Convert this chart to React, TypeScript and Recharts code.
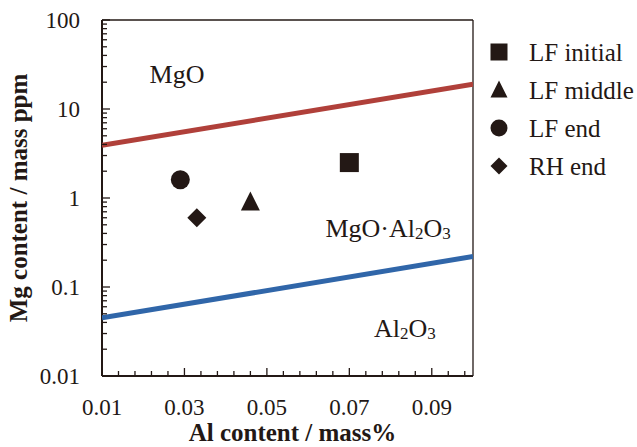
import { ScatterChart, Scatter, XAxis, YAxis, ReferenceLine, ReferenceDot, Legend } from 'recharts'

// Al content (mass%) vs Mg content (mass ppm), stability diagram
const LF_INITIAL = [{ al: 0.07, mg: 2.5 }]
const LF_MIDDLE = [{ al: 0.046, mg: 0.9 }]
const LF_END = [{ al: 0.029, mg: 1.6 }]
const RH_END = [{ al: 0.033, mg: 0.6 }]

// phase boundaries
const MGO_SPINEL = [
  { al: 0.01, mg: 3.9 },
  { al: 0.1, mg: 19 },
]
const SPINEL_AL2O3 = [
  { al: 0.01, mg: 0.045 },
  { al: 0.1, mg: 0.22 },
]

const AL_MAJOR = [0.01, 0.03, 0.05, 0.07, 0.09]
const AL_MINOR = [
  0.014, 0.018, 0.022, 0.026, 0.034, 0.038, 0.042, 0.046, 0.054, 0.058, 0.062, 0.066, 0.074, 0.078,
  0.082, 0.086, 0.094, 0.098,
]
const MG_MAJOR = [0.01, 0.1, 1, 10, 100]
const MG_MINOR = [
  0.02, 0.03, 0.04, 0.05, 0.06, 0.07, 0.08, 0.09, 0.2, 0.3, 0.4, 0.5, 0.6, 0.7, 0.8, 0.9, 2, 3, 4, 5,
  6, 7, 8, 9, 20, 30, 40, 50, 60, 70, 80, 90,
]

type Kind = 'square' | 'triangle' | 'circle' | 'diamond'

const SERIES: { name: string; kind: Kind; data: { al: number; mg: number }[] }[] = [
  { name: 'LF initial', kind: 'square', data: LF_INITIAL },
  { name: 'LF middle', kind: 'triangle', data: LF_MIDDLE },
  { name: 'LF end', kind: 'circle', data: LF_END },
  { name: 'RH end', kind: 'diamond', data: RH_END },
]

const W = 637
const H = 447
const PLOT_LEFT = 102
const PLOT_TOP = 20
const PLOT_RIGHT = 473
const PLOT_BOTTOM = 376

const INK = '#231815'
const RED = '#B0403A'
const BLUE = '#3066A9'
const FONT = '"Liberation Serif", "Times New Roman", serif'

const isMajor = (v: number, list: number[]) => list.some(m => Math.abs(m - v) / m < 1e-6)

function Marker({ kind, cx, cy, s }: { kind: Kind; cx: number; cy: number; s: number }) {
  const h = s / 2
  switch (kind) {
    case 'square':
      return <rect x={cx - h} y={cy - h} width={s} height={s} fill={INK} />
    case 'circle':
      return <circle cx={cx} cy={cy} r={h} fill={INK} />
    case 'triangle':
      return <polygon points={`${cx},${cy - h - 1} ${cx + h},${cy + h - 1} ${cx - h},${cy + h - 1}`} fill={INK} />
    default:
      return <polygon points={`${cx},${cy - h} ${cx + h},${cy} ${cx},${cy + h} ${cx - h},${cy}`} fill={INK} />
  }
}

function YTick(props: any) {
  const { y, payload } = props
  const v = payload.value as number
  const major = isMajor(v, MG_MAJOR)
  return (
    <g>
      <line x1={PLOT_LEFT} x2={PLOT_LEFT + (major ? 8 : 5)} y1={y} y2={y} stroke={INK} strokeWidth={1.3} />
      {major && (
        <text x={PLOT_LEFT - 22} y={y} textAnchor="end" dominantBaseline="central" fontFamily={FONT} fontSize={23} fill={INK}>
          {String(v)}
        </text>
      )}
    </g>
  )
}

function XTick(props: any) {
  const { x, payload } = props
  const v = payload.value as number
  const major = isMajor(v, AL_MAJOR)
  return (
    <g>
      <line x1={x} x2={x} y1={PLOT_BOTTOM} y2={PLOT_BOTTOM - (major ? 8 : 5)} stroke={INK} strokeWidth={1.3} />
      {major && (
        <text x={x} y={PLOT_BOTTOM + 31} textAnchor="middle" dominantBaseline="central" fontFamily={FONT} fontSize={23} fill={INK}>
          {v.toFixed(2)}
        </text>
      )}
    </g>
  )
}

function PhaseLabel({ viewBox, parts }: any) {
  const cx = viewBox.x
  const cy = viewBox.y
  return (
    <text x={cx} y={cy} textAnchor="middle" dominantBaseline="central" fontFamily={FONT} fontSize={26} fill={INK}>
      {parts.map((p: [string, boolean], i: number) =>
        p[1] ? (
          <tspan key={i} fontSize={17} dy={5}>
            {p[0]}
          </tspan>
        ) : (
          <tspan key={i} dy={i > 0 && parts[i - 1][1] ? -5 : 0}>
            {p[0]}
          </tspan>
        ),
      )}
    </text>
  )
}

function LegendBox() {
  return (
    <svg width={150} height={160}>
      {SERIES.map((s, i) => (
        <g key={s.name}>
          <Marker kind={s.kind} cx={14} cy={14 + i * 38} s={17} />
          <text x={44} y={14 + i * 38} dominantBaseline="central" fontFamily={FONT} fontSize={25} fill={INK}>
            {s.name}
          </text>
        </g>
      ))}
    </svg>
  )
}

export default function App() {
  return (
    <div style={{ position: 'absolute', left: 0, top: 0, width: W, height: H, background: '#fff' }}>
      <ScatterChart
        width={W}
        height={H}
        margin={{ top: PLOT_TOP, right: W - PLOT_RIGHT, left: 0, bottom: 0 }}
      >
        <XAxis
          type="number"
          dataKey="al"
          domain={[0.01, 0.1]}
          ticks={[...AL_MAJOR, ...AL_MINOR]}
          interval={0}
          tick={<XTick />}
          tickLine={false}
          axisLine={{ stroke: INK, strokeWidth: 2 }}
          height={H - PLOT_BOTTOM}
          allowDataOverflow
          label={{
            value: 'Al content / mass%',
            position: 'insideBottom',
            offset: 6,
            dx: 5,
            style: { fontFamily: FONT, fontSize: 25, fontWeight: 700, fill: INK },
          }}
        />
        <YAxis
          type="number"
          dataKey="mg"
          scale="log"
          domain={[0.01, 100]}
          ticks={[...MG_MAJOR, ...MG_MINOR]}
          interval={0}
          tick={<YTick />}
          tickLine={false}
          axisLine={{ stroke: INK, strokeWidth: 2 }}
          width={PLOT_LEFT}
          allowDataOverflow
          label={{
            value: 'Mg content / mass ppm',
            angle: -90,
            position: 'insideLeft',
            offset: 18,
            style: { fontFamily: FONT, fontSize: 25, fontWeight: 700, fill: INK, textAnchor: 'middle' },
          }}
        />
        <ReferenceLine y={100} stroke={INK} strokeWidth={1.3} />
        <ReferenceLine x={0.1} stroke={INK} strokeWidth={1.3} />

        <Scatter
          data={MGO_SPINEL}
          line={{ stroke: RED, strokeWidth: 5 }}
          shape={() => <g />}
          legendType="none"
          isAnimationActive={false}
        />
        <Scatter
          data={SPINEL_AL2O3}
          line={{ stroke: BLUE, strokeWidth: 5 }}
          shape={() => <g />}
          legendType="none"
          isAnimationActive={false}
        />

        {SERIES.map(s => (
          <Scatter
            key={s.name}
            name={s.name}
            data={s.data}
            isAnimationActive={false}
            shape={(p: any) => <Marker kind={s.kind} cx={p.cx} cy={p.cy} s={19} />}
          />
        ))}

        <ReferenceDot x={0.0282} y={25} r={0} label={<PhaseLabel parts={[['MgO', false]]} />} />
        <ReferenceDot
          x={0.0794}
          y={0.46}
          r={0}
          label={<PhaseLabel parts={[['MgO·Al', false], ['2', true], ['O', false], ['3', true]]} />}
        />
        <ReferenceDot
          x={0.0835}
          y={0.035}
          r={0}
          label={<PhaseLabel parts={[['Al', false], ['2', true], ['O', false], ['3', true]]} />}
        />

        <Legend
          layout="horizontal"
          verticalAlign="middle"
          content={() => <LegendBox />}
          wrapperStyle={{ position: 'absolute', left: 485, top: 38, width: 150, height: 160 }}
        />
      </ScatterChart>
    </div>
  )
}
